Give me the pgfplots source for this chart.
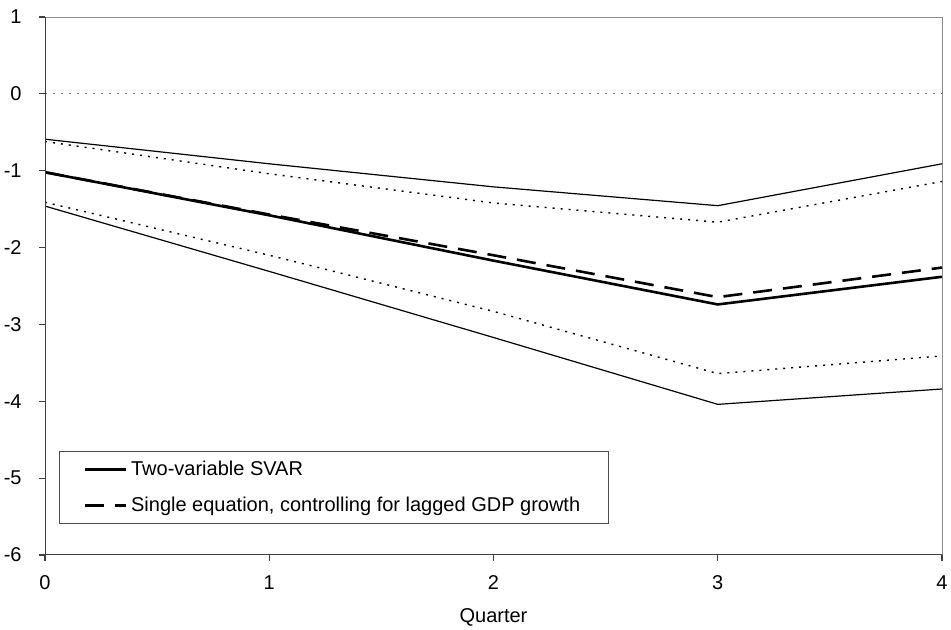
\documentclass[border=0pt]{standalone}
\usepackage{fontspec}
\setmainfont{Liberation Sans}
\usepackage{pgfplots}
\pgfplotsset{compat=1.18}
\begin{document}
\begin{tikzpicture}
\useasboundingbox (-22.5pt,-37.5pt) rectangle (453pt,277.5pt);
\begin{axis}[
  width=448.5pt, height=269pt, scale only axis,
  xmin=0, xmax=4, ymin=-6, ymax=1,
  xtick={0,1,2,3,4}, ytick={-6,-5,-4,-3,-2,-1,0,1},
  xticklabels={0,1,2,3,4},
  yticklabels={-6,-5,-4,-3,-2,-1,0,1},
  tick align=outside, major tick length=3pt,
  xtick pos=bottom, ytick pos=left,
  tick style={black!75, line width=0.6pt},
  axis line style={black!45, line width=0.5pt},
  ticklabel style={font=\fontsize{10}{12}\selectfont},
  xticklabel style={anchor=north, inner sep=0pt, yshift=-7pt},
  yticklabel style={anchor=east, inner sep=0pt, xshift=-8.5pt},
  xlabel={Quarter},
  xlabel style={font=\fontsize{10}{12}\selectfont, yshift=-6pt},
  legend style={at={(0,0)}, anchor=south west, xshift=7pt, yshift=15.5pt,
    draw=black!70, line width=0.5pt, inner xsep=12pt, inner ysep=2.5pt,
    font=\fontsize{10}{12}\selectfont, row sep=5.5pt,
    legend cell align=left},
  legend image code/.code={\draw[#1] (0pt,0pt) -- (20.5pt,0pt);},
]
\addplot[black!55, line width=0.6pt, dash pattern=on 1pt off 3pt, forget plot] coordinates {(0,0) (4,0)};
\addplot[black, line width=0.6pt, forget plot] coordinates {(0,-0.59) (1,-0.91) (2,-1.21) (3,-1.455) (4,-0.91)};
\addplot[black, line width=0.7pt, dash pattern=on 1pt off 3pt, forget plot] coordinates {(0,-0.62) (1,-1.04) (2,-1.42) (3,-1.67) (4,-1.14)};
\addplot[black, line width=0.7pt, dash pattern=on 1pt off 3pt, forget plot] coordinates {(0,-1.41) (1,-2.10) (2,-2.83) (3,-3.64) (4,-3.41)};
\addplot[black, line width=0.6pt, forget plot] coordinates {(0,-1.46) (1,-2.31) (2,-3.17) (3,-4.04) (4,-3.84)};
\addplot[black, line width=1.3pt] coordinates {(0,-1.02) (1,-1.58) (2,-2.17) (3,-2.74) (4,-2.38)};
\addlegendentry{Two-variable SVAR}
\addplot[black, line width=1.3pt, dash pattern=on 9.5pt off 5.5pt] coordinates {(0,-1.02) (1,-1.57) (2,-2.10) (3,-2.645) (4,-2.26)};
\addlegendentry{Single equation, controlling for lagged GDP growth}
\draw[black!75, line width=0.7pt] (rel axis cs:0,1) -- (rel axis cs:0,0) -- (rel axis cs:1,0);
\end{axis}
\end{tikzpicture}
\end{document}
